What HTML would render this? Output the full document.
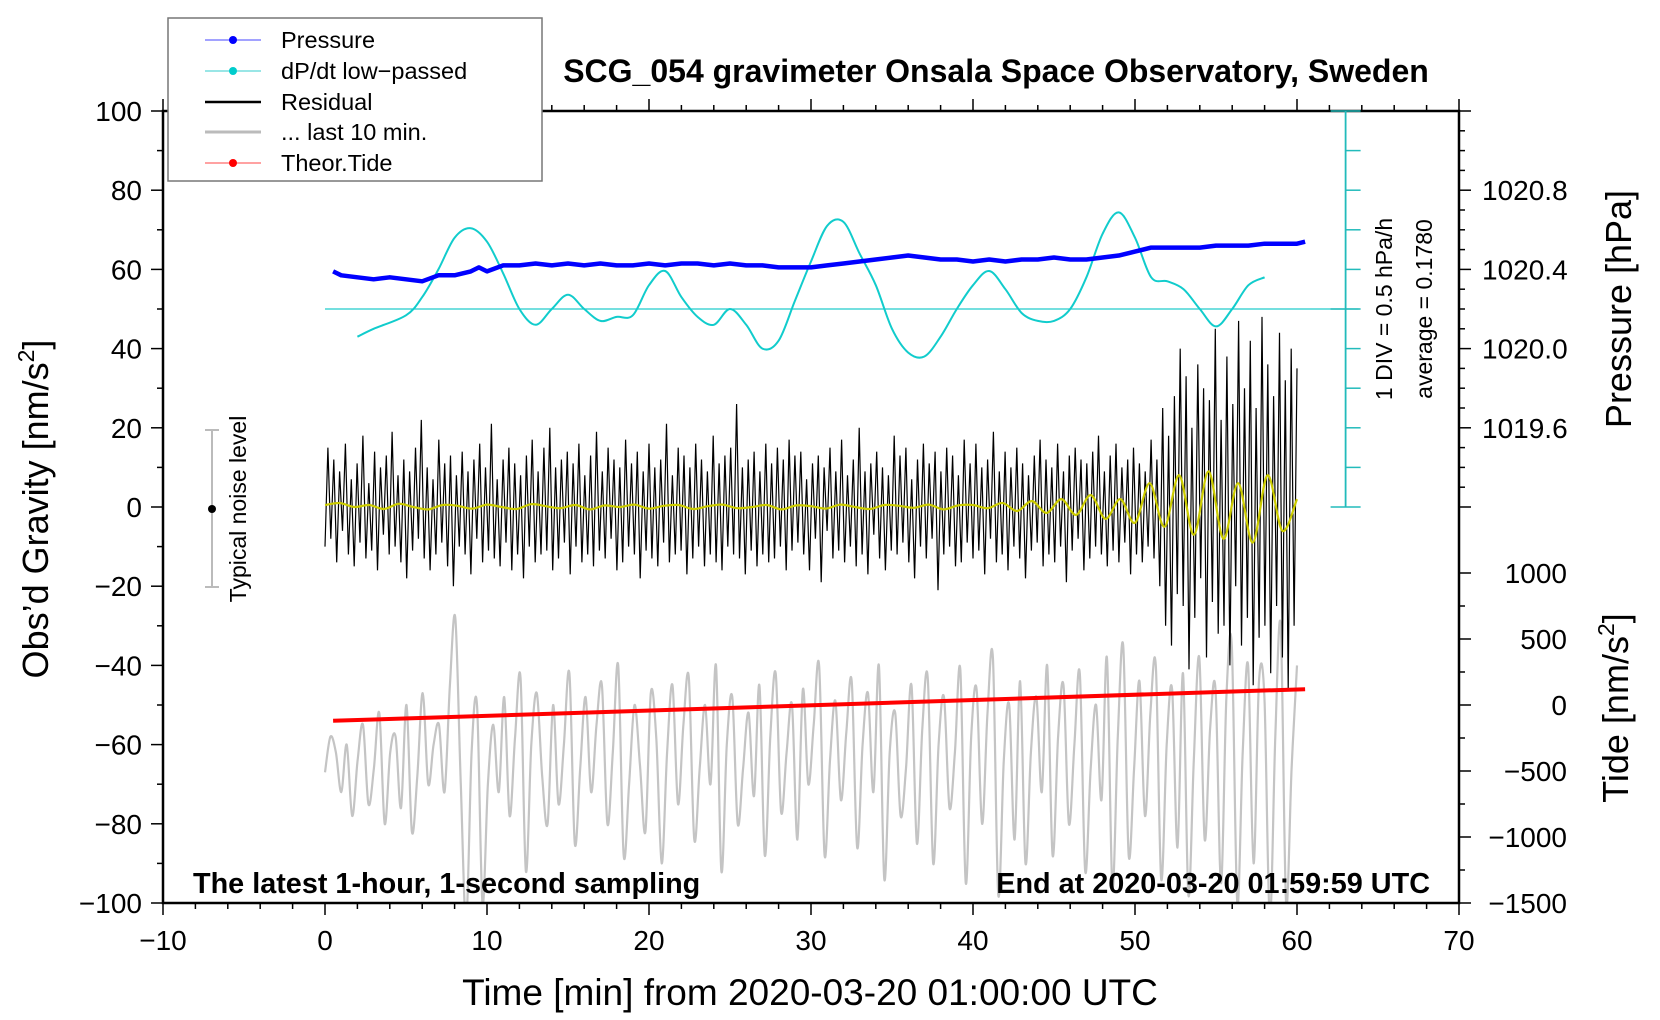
<!DOCTYPE html>
<html><head><meta charset="utf-8"><style>
html,body{margin:0;padding:0;background:#fff;}
svg{display:block;font-family:"Liberation Sans",Arial,sans-serif;}
</style></head><body>
<svg id="chart" width="1660" height="1020" viewBox="0 0 1660 1020" xmlns="http://www.w3.org/2000/svg">
<defs><clipPath id="plotclip"><rect x="163" y="111" width="1296" height="792"/></clipPath></defs>
<g id="marks" clip-path="url(#plotclip)"></g>
<g id="axes"></g>
<text x="996" y="82" font-size="32" font-weight="bold" text-anchor="middle">SCG_054 gravimeter Onsala Space Observatory, Sweden</text>
<text x="193" y="893" font-size="28.8" font-weight="bold">The latest 1-hour, 1-second sampling</text>
<text x="1430" y="893" font-size="28.8" font-weight="bold" text-anchor="end">End at 2020-03-20 01:59:59 UTC</text>
<text x="810" y="1005" font-size="37" text-anchor="middle">Time [min] from 2020-03-20 01:00:00 UTC</text>
<text transform="translate(48,509) rotate(-90)" font-size="36" text-anchor="middle">Obs’d Gravity [nm/s<tspan font-size="23" dy="-14">2</tspan><tspan dy="14">]</tspan></text>
<text transform="translate(1631,309) rotate(-90)" font-size="36" text-anchor="middle">Pressure [hPa]</text>
<text transform="translate(1628,708) rotate(-90)" font-size="36" text-anchor="middle">Tide [nm/s<tspan font-size="23" dy="-14">2</tspan><tspan dy="14">]</tspan></text>
<text transform="translate(1392,309) rotate(-90)" font-size="23" text-anchor="middle">1 DIV = 0.5 hPa/h</text>
<text transform="translate(1432,309) rotate(-90)" font-size="23" text-anchor="middle">average = 0.1780</text>
<g>
<line x1="212" y1="430" x2="212" y2="587" stroke="#bbb" stroke-width="2"/>
<line x1="205" y1="430" x2="219" y2="430" stroke="#bbb" stroke-width="2"/>
<line x1="205" y1="587" x2="219" y2="587" stroke="#bbb" stroke-width="2"/>
<circle cx="212" cy="509" r="4" fill="#000"/>
<text transform="translate(246,509) rotate(-90)" font-size="23" text-anchor="middle">Typical noise level</text>
</g>
<g>
<rect x="168" y="18" width="374" height="163" fill="#fff" stroke="#777" stroke-width="1.5"/>
<g><line x1="205" y1="40" x2="261" y2="40" stroke="#44f" stroke-width="1"/><circle cx="233" cy="40" r="4" fill="#00f"/><text x="281" y="48" font-size="23.5">Pressure</text></g>
<g><line x1="205" y1="71" x2="261" y2="71" stroke="#3cc" stroke-width="1"/><circle cx="233" cy="71" r="4" fill="#0cc"/><text x="281" y="79" font-size="23.5">dP/dt low−passed</text></g>
<g><line x1="205" y1="102" x2="261" y2="102" stroke="#000" stroke-width="2.5"/><text x="281" y="110" font-size="23.5">Residual</text></g>
<g><line x1="205" y1="132" x2="261" y2="132" stroke="#bbb" stroke-width="3"/><text x="281" y="140" font-size="23.5">... last 10 min.</text></g>
<g><line x1="205" y1="163" x2="261" y2="163" stroke="#f44" stroke-width="1"/><circle cx="233" cy="163" r="4" fill="#f00"/><text x="281" y="171" font-size="23.5">Theor.Tide</text></g>
</g>
</svg>
<script>
// ---- data ----
const xTicks = [-10,0,10,20,30,40,50,60,70];
const yTicks = [-100,-80,-60,-40,-20,0,20,40,60,80,100];
const pressureTicks = [1019.6,1020.0,1020.4,1020.8];
const tideTicks = [-1500,-1000,-500,0,500,1000];
const pressureTimes = [0.5,1,2,3,4,5,6,7,8,9,9.5,10,11,12,13,14,15,16,17,18,19,20,21,22,23,24,25,26,27,28,29,30,31,32,33,34,35,36,37,38,39,40,41,42,43,44,45,46,47,48,49,50,51,52,53,54,55,56,57,58,59,60,60.5];
const pressureValues = [1020.39,1020.37,1020.36,1020.35,1020.36,1020.35,1020.34,1020.37,1020.37,1020.39,1020.41,1020.39,1020.42,1020.42,1020.43,1020.42,1020.43,1020.42,1020.43,1020.42,1020.42,1020.43,1020.42,1020.43,1020.43,1020.42,1020.43,1020.42,1020.42,1020.41,1020.41,1020.41,1020.42,1020.43,1020.44,1020.45,1020.46,1020.47,1020.46,1020.45,1020.45,1020.44,1020.45,1020.44,1020.45,1020.45,1020.46,1020.45,1020.45,1020.46,1020.47,1020.49,1020.51,1020.51,1020.51,1020.51,1020.52,1020.52,1020.52,1020.53,1020.53,1020.53,1020.54];
const dpdtTimes = [2,3,5,6,7,8,9,10,11,12,13,14,15,16,17,18,19,20,21,22,23,24,25,26,27,28,29,30,31,32,33,34,35,36,37,38,39,40,41,42,43,44,45,46,47,48,49,50,51,52,53,54,55,56,57,58];
const dpdtValues = [-0.35,-0.25,-0.08,0.15,0.5,0.9,1.02,0.85,0.45,0.0,-0.2,0.0,0.18,0.0,-0.15,-0.1,-0.08,0.3,0.48,0.15,-0.1,-0.2,0.0,-0.2,-0.5,-0.4,0.1,0.6,1.05,1.1,0.7,0.3,-0.25,-0.55,-0.6,-0.35,0.0,0.3,0.48,0.25,-0.05,-0.15,-0.15,0.0,0.4,0.95,1.22,0.9,0.4,0.35,0.25,0.0,-0.22,0.0,0.3,0.4];
const residualValues = [-10,15,-8,12,-14,9,-6,16,-12,7,-15,11,-9,18,-13,6,-11,14,-16,10,-7,13,-12,19,-10,8,-14,12,-18,9,-11,15,-8,22,-13,10,-16,7,-12,17,-9,11,-15,13,-20,8,-10,14,-12,9,-17,12,-8,16,-14,10,-11,21,-13,7,-15,12,-9,15,-16,11,-12,8,-18,13,-10,17,-14,9,-12,15,-11,20,-16,10,-13,12,-9,14,-17,11,-10,16,-14,8,-12,13,-15,19,-11,9,-13,15,-8,12,-16,10,-14,17,-10,11,-12,14,-18,9,-11,16,-13,10,-15,12,-9,21,-14,8,-12,15,-11,13,-17,10,-13,16,-10,12,-15,9,-12,18,-14,11,-16,13,-10,15,-12,26,-13,10,-17,12,-11,14,-15,9,-12,16,-14,11,-13,15,-10,12,-16,17,-11,13,
-9,14,-12,7,-16,11,-8,13,-19,10,-6,15,-13,9,-11,17,-14,8,-10,12,-15,20,-12,9,-17,11,-7,14,-13,10,-16,8,-11,18,-12,13,-9,15,-14,7,-18,12,-10,16,-13,11,-8,14,-21,9,-12,15,-10,13,-15,8,-14,17,-9,11,-13,16,-11,10,-17,12,-8,19,-14,9,-12,14,-16,10,-10,15,-13,11,-18,8,-11,13,-9,17,-15,12,-12,10,-14,16,-10,9,-19,13,-11,15,-8,12,-16,11,-13,14,-10,18,-12,9,-15,13,-11,16,-14,10,-9,12,-17,15,-12,11,-14,9,-10,17,-13,12,
-20,25,-30,18,-35,28,-22,40,-25,33,-41,20,-28,36,-18,30,-38,27,-24,45,-32,22,-30,38,-40,26,-20,47,-35,30,-28,42,-45,25,-33,48,-30,36,-42,28,-25,44,-38,32,-46,40,-30,35];
const smoothValues = [0.5,1,0,0.5,-0.5,0.8,0,-0.6,0.5,0.3,-0.4,0.6,0,-0.5,0.7,0.2,-0.3,0.5,-0.6,0.4,0,0.6,-0.4,0.3,0.5,-0.5,0.2,0.6,-0.3,0,0.5,-0.6,0.4,0.2,-0.4,0.6,0,-0.5,0.5,0.3,-0.2,0.6,-0.6,0.4,0.5,-0.3,1,-1,1.5,-1.5,2,-2,3,-3,2,-4,6,-5,8,-7,9,-8,6,-9,8,-6,2];
const grayValues = [-67,-58,-62,-72,-60,-78,-64,-55,-75,-66,-52,-80,-62,-58,-76,-50,-82,-68,-47,-70,-60,-55,-72,-45,-28,-70,-105,-62,-50,-100,-70,-55,-72,-48,-78,-58,-43,-92,-60,-47,-68,-80,-50,-75,-60,-42,-85,-66,-48,-72,-55,-45,-80,-62,-40,-88,-70,-50,-65,-82,-47,-58,-90,-62,-45,-75,-55,-43,-84,-66,-50,-70,-40,-92,-60,-48,-80,-66,-52,-73,-45,-88,-58,-42,-77,-62,-50,-84,-46,-70,-55,-40,-88,-64,-49,-74,-57,-44,-86,-60,-47,-72,-40,-94,-62,-52,-78,-66,-45,-85,-56,-43,-90,-60,-48,-76,-62,-41,-95,-58,-46,-80,-52,-38,-98,-64,-50,-84,-44,-90,-62,-48,-72,-40,-88,-58,-45,-80,-60,-42,-92,-66,-50,-74,-38,-96,-58,-35,-88,-66,-44,-78,-52,-40,-94,-60,-46,-86,-42,-98,-64,-38,-84,-56,-46,-95,-48,-35,-100,-62,-40,-90,-44,-48,-104,-58,-30,-100,-66,-40];
const tideTimes = [0.5,60.5];
const tideValues = [-120,120];
// ---- scales ----
const X0=163,X1=1459,Y0=111,Y1=903;
const xs=t=>X0+(t+10)/80*(X1-X0);
const ys=g=>Y1-(g+100)/200*(Y1-Y0);
const pToG=p=>40+(p-1020)/0.02;
const tideToG=v=>v/30-50;
const dpToG=v=>50+v/0.05;
const NS='http://www.w3.org/2000/svg';
const marks=document.getElementById('marks'),axes=document.getElementById('axes');
function mk(tag,parent,attrs){const e=document.createElementNS(NS,tag);for(const k in attrs)e.setAttribute(k,attrs[k]);parent.appendChild(e);return e;}
function pts(ts,gs){return gs.map((g,i)=>xs(ts[i]).toFixed(1)+','+ys(g).toFixed(1)).join(' ');}
function smooth(ts,gs){const P=gs.map((g,i)=>[xs(ts[i]),ys(g)]);let d='M'+P[0][0].toFixed(1)+','+P[0][1].toFixed(1);
 for(let i=0;i<P.length-1;i++){const p0=P[Math.max(0,i-1)],p1=P[i],p2=P[i+1],p3=P[Math.min(P.length-1,i+2)];
  const c1=[p1[0]+(p2[0]-p0[0])/6,p1[1]+(p2[1]-p0[1])/6],c2=[p2[0]-(p3[0]-p1[0])/6,p2[1]-(p3[1]-p1[1])/6];
  d+=' C'+c1.map(v=>v.toFixed(1)).join(',')+' '+c2.map(v=>v.toFixed(1)).join(',')+' '+p2[0].toFixed(1)+','+p2[1].toFixed(1);}
 return d;}
function even(n,a,b){const r=[];for(let i=0;i<n;i++)r.push(a+(b-a)*i/(n-1));return r;}
// gray last-10-min
let e=mk('path',marks,{d:smooth(even(grayValues.length,0,60),grayValues),fill:'none',stroke:'#c4c4c4','stroke-width':2.2});


// cyan zero line
e=mk('line',marks,{x1:xs(0),y1:ys(50),x2:xs(63.8),y2:ys(50),stroke:'#2cc',"stroke-width":1.3});


// residual
e=mk('polyline',marks,{points:pts(even(residualValues.length,0,60),residualValues),fill:'none',stroke:'#000','stroke-width':1.2});


e=mk('path',marks,{d:smooth(even(smoothValues.length,0,60),smoothValues),fill:'none',stroke:'#cc0','stroke-width':2.2});


// dpdt
e=mk('path',marks,{d:smooth(dpdtTimes,dpdtValues.map(dpToG)),fill:'none',stroke:'#1cc','stroke-width':2});


// pressure
e=mk('polyline',marks,{points:pts(pressureTimes,pressureValues.map(pToG)),fill:'none',stroke:'#00f','stroke-width':4.5,'stroke-linejoin':'round'});


// tide
e=mk('polyline',marks,{points:pts(tideTimes,tideValues.map(tideToG)),fill:'none',stroke:'#f00','stroke-width':4});


// frame
e=mk('rect',axes,{x:X0,y:Y0,width:X1-X0,height:Y1-Y0,fill:'none',stroke:'#000','stroke-width':2.5});


// x ticks
for(let t=-10;t<=70;t+=2){const maj=t%10===0;
 mk('line',axes,{x1:xs(t),y1:Y1,x2:xs(t),y2:Y1+(maj?12:6),stroke:'#000','stroke-width':1.5});
 mk('line',axes,{x1:xs(t),y1:Y0,x2:xs(t),y2:Y0-(maj?12:6),stroke:'#000','stroke-width':1.5});}
xTicks.forEach(t=>{const l=mk('text',axes,{x:xs(t),y:Y1+47,'font-size':28,'text-anchor':'middle'});l.textContent=String(t).replace('-','−');
 
 });
// y ticks
for(let g=-100;g<=100;g+=10){const maj=g%20===0;mk('line',axes,{x1:X0,y1:ys(g),x2:X0-(maj?12:6),y2:ys(g),stroke:'#000','stroke-width':1.5});}
yTicks.forEach(g=>{const l=mk('text',axes,{x:X0-21,y:ys(g)+10,'font-size':28,'text-anchor':'end'});l.textContent=String(g).replace('-','−');
 
 });
// pressure ticks
for(let p=1019.2;p<=1021.21;p+=0.1){const g=pToG(p);const maj=Math.abs((p-1019.6)/0.4-Math.round((p-1019.6)/0.4))<0.01;mk('line',axes,{x1:X1,y1:ys(g),x2:X1+(maj?12:6),y2:ys(g),stroke:'#000','stroke-width':1.5});}
pressureTicks.forEach(p=>{const l=mk('text',axes,{x:X1+23,y:ys(pToG(p))+10,'font-size':28});l.textContent=p.toFixed(1);
 
 });
// tide ticks
for(let v=-1500;v<=1000;v+=250){const maj=v%500===0;mk('line',axes,{x1:X1,y1:ys(tideToG(v)),x2:X1+(maj?12:6),y2:ys(tideToG(v)),stroke:'#000','stroke-width':1.5});}
tideTicks.forEach(v=>{const l=mk('text',axes,{x:X1+108,y:ys(tideToG(v))+10,'font-size':28,'text-anchor':'end'});l.textContent=String(v).replace('-','−');
 
 });
// dpdt scale bar
const sx=xs(63);
e=mk('line',axes,{x1:sx,y1:ys(100),x2:sx,y2:ys(0),stroke:'#2bb','stroke-width':1.8});


for(let g=0;g<=100;g+=10){const big=(g===0||g===50||g===100);mk('line',axes,{x1:big?sx-15:sx,y1:ys(g),x2:sx+15,y2:ys(g),stroke:'#2bb','stroke-width':1.5});}
</script>
</body></html>
